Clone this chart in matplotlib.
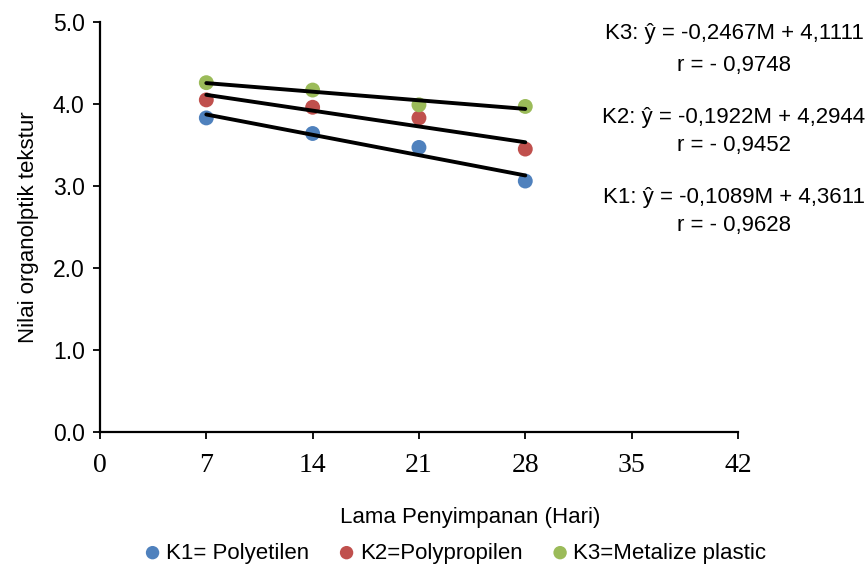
import numpy as np
import matplotlib.pyplot as plt

plt.rcParams['font.family'] = ['Liberation Sans', 'DejaVu Sans']

# storage day (x) and texture score per packaging
hari = [7, 14, 21, 28]
k1 = [3.83, 3.64, 3.47, 3.06]
k2 = [4.05, 3.96, 3.83, 3.45]
k3 = [4.26, 4.17, 3.99, 3.97]

labels = ['K1= Polyetilen', 'K2=Polypropilen', 'K3=Metalize plastic']
colors = ['#4f81bd', '#c0504d', '#9bbb59']
eq_text = ['K3: ŷ = -0,2467M + 4,1111', 'r = - 0,9748',
           'K2: ŷ = -0,1922M + 4,2944', 'r = - 0,9452',
           'K1: ŷ = -0,1089M + 4,3611', 'r = - 0,9628']
eq_y = [33, 65, 117, 146, 198, 226]

xticks = [0, 7, 14, 21, 28, 35, 42]
yticks = [0, 1, 2, 3, 4, 5]

fig = plt.figure(figsize=(8.65, 5.72), dpi=100)
ax = fig.add_axes([0.1156, 0.245, 0.7375, 0.7165])

x = np.array(hari)
for y, c, lab in zip([k1, k2, k3], colors, labels):
    ax.scatter(x, y, s=115, color=c, label=lab, zorder=2, edgecolors='none')
for y in [k1, k2, k3]:
    m, b = np.polyfit(x, y, 1)  # linear trendline
    ax.plot(x[[0, -1]], m * x[[0, -1]] + b, color='black', lw=2.8, zorder=3,
            solid_capstyle='round')

ax.set_xlim(0, 42)
ax.set_ylim(0, 5)
ax.set_xticks(xticks)
ax.set_xticklabels([str(t) for t in xticks], family='Liberation Serif', fontsize=20)
ax.set_yticks(yticks)
ax.set_yticklabels(['%.1f' % t for t in yticks], fontsize=16.5)
ax.tick_params(axis='x', direction='out', length=5, width=1.3, pad=10)
ax.tick_params(axis='y', direction='out', length=5, width=1.3, pad=6)
for s in ['top', 'right']:
    ax.spines[s].set_visible(False)
for s in ['left', 'bottom']:
    ax.spines[s].set_linewidth(1.6)

ax.set_ylabel('Nilai organolptik tekstur', fontsize=16, labelpad=10)
fig.text(0.543, 1 - 517 / 572, 'Lama Penyimpanan (Hari)', fontsize=16, ha='center', va='center')

for t, yy in zip(eq_text, eq_y):
    fig.text(734 / 865, 1 - yy / 572, t, fontsize=16, ha='center', va='center')

fig.legend(loc='center', bbox_to_anchor=(455 / 865, 1 - 553 / 572), ncol=3, frameon=False,
           fontsize=16, handlelength=0.8, handletextpad=0.19, columnspacing=1.3,
           markerscale=0.9)

fig.savefig('out.png', dpi=100)
